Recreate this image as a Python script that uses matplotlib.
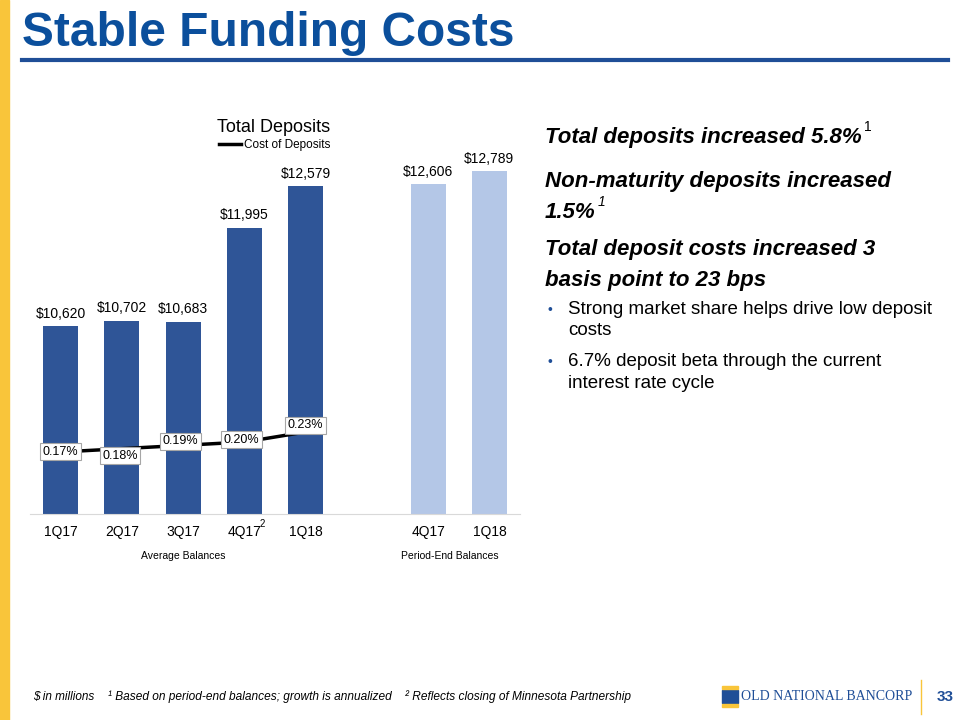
import numpy as np
import matplotlib.pyplot as plt
from matplotlib.lines import Line2D
from matplotlib.patches import Rectangle
import matplotlib.transforms as mtransforms

plt.rcParams['font.family'] = ['Liberation Sans', 'DejaVu Sans']

# data
avg_quarters = ['1Q17', '2Q17', '3Q17', '4Q17', '1Q18']
avg_deposits = [10620, 10702, 10683, 11995, 12579]
cost_of_deposits = [0.17, 0.18, 0.19, 0.20, 0.23]
end_quarters = ['4Q17', '1Q18']
end_deposits = [12606, 12789]

# (text, superscript) per line of the bold headlines
headline_lines = [
    ('Total deposits increased 5.8%', '1'),
    ('Non-maturity deposits increased', ''),
    ('1.5%', '1'),
    ('Total deposit costs increased 3', ''),
    ('basis point to 23 bps', ''),
]
bullet_lines = [
    ['Strong market share helps drive low deposit', 'costs'],
    ['6.7% deposit beta through the current', 'interest rate cycle'],
]

DARK = '#2F5597'
LIGHT = '#B4C7E7'
TITLE_BLUE = '#0B4F9C'
YELLOW = '#F9C53A'


def fy(py):
    return 1 - py / 720


def main():
    fig = plt.figure(figsize=(9.6, 7.2), dpi=100)

    # slide decorations
    fig.patches.append(Rectangle((0, 0), 9 / 960, 1, transform=fig.transFigure,
                                 color=YELLOW, zorder=0))
    fig.text(22 / 960, fy(34), 'Stable Funding Costs', fontsize=34.5,
             fontweight='bold', color=TITLE_BLUE, va='center', ha='left')
    fig.add_artist(Line2D([22 / 960, 948 / 960], [fy(60), fy(60)],
                          transform=fig.transFigure, color='#1F4E97', linewidth=3))

    # chart
    ax = fig.add_axes([30 / 960, fy(514), 490 / 960, 364 / 720])
    x_avg = np.arange(len(avg_quarters))
    x_end = np.arange(len(end_quarters)) + len(avg_quarters) + 1
    width = 0.57
    b1 = ax.bar(x_avg, avg_deposits, width=width, color=DARK, zorder=2)
    b2 = ax.bar(x_end, end_deposits, width=width, color=LIGHT, zorder=2)
    for bars, vals in ((b1, avg_deposits), (b2, end_deposits)):
        for rect, v in zip(bars, vals):
            ax.annotate('\\$' + f'{v:,}', (rect.get_x() + rect.get_width() / 2, v),
                        xytext=(0, 4), textcoords='offset points',
                        ha='center', va='bottom', fontsize=10)
    ax.set_xlim(-0.5, 7.5)
    ax.set_ylim(8000, 13084)
    ax.set_xticks(list(x_avg) + list(x_end))
    ax.set_xticklabels(avg_quarters + end_quarters, fontsize=10)
    ax.tick_params(axis='x', length=0, pad=8)
    ax.set_yticks([])
    for s in ['top', 'right', 'left']:
        ax.spines[s].set_visible(False)
    ax.spines['bottom'].set_color('#D9D9D9')
    trans = mtransforms.blended_transform_factory(ax.transData, ax.transAxes)
    ax.text(3.25, -0.014, '2', transform=trans, fontsize=7, ha='left', va='top')
    ax.text(2, -0.115, 'Average Balances', transform=trans, fontsize=7.5,
            ha='center', va='center')
    ax.text(6.35, -0.115, 'Period-End Balances', transform=trans, fontsize=7.5,
            ha='center', va='center')

    ax2 = ax.twinx()
    line, = ax2.plot(x_avg, cost_of_deposits, color='black', linewidth=2.5, zorder=3)
    ax2.set_ylim(-0.016, 1.076)
    ax2.set_yticks([])
    for s in ax2.spines.values():
        s.set_visible(False)
    offsets = [(0, 0), (-1.5, -5), (-2, 3), (-2, 1.5), (0, 5)]
    for xi, v, off in zip(x_avg, cost_of_deposits, offsets):
        ax2.annotate(f'{v:.2f}%', (xi, v), xytext=off, textcoords='offset points',
                     ha='center', va='center', fontsize=9, zorder=4,
                     bbox=dict(boxstyle='square,pad=0.2', fc='white', ec='#A6A6A6', lw=0.8))

    fig.text(274 / 960, fy(127), 'Total Deposits', fontsize=13,
             ha='center', va='center')
    fig.legend([line], ['Cost of Deposits'], loc='center',
               bbox_to_anchor=(275 / 960, fy(145)), frameon=False,
               fontsize=8.5, handlelength=1.8, handletextpad=0.3,
               borderpad=0, borderaxespad=0)

    # right-hand commentary
    for (txt, sup), y in zip(headline_lines, [137, 181, 212, 250, 281]):
        t = fig.text(545 / 960, fy(y), txt, fontsize=16, fontweight='bold',
                     fontstyle='italic', va='center', ha='left')
        if sup:
            ax.annotate(sup, xy=(1, 0.62), xycoords=t, xytext=(1.5, 0),
                        textcoords='offset points', fontsize=10,
                        fontstyle='italic' if y > 150 else 'normal',
                        va='bottom', ha='left')
    for lines, y in zip(bullet_lines, [310, 362]):
        fig.text(547 / 960, fy(y), '\u2022', fontsize=10, color='#1F4E97',
                 va='center', ha='left')
        for i, txt in enumerate(lines):
            fig.text(568 / 960, fy(y + 21 * i), txt, fontsize=13.5,
                     va='center', ha='left')

    # footer
    fig.text(33 / 960, fy(697), '\\$ in millions', fontsize=8.5,
             fontstyle='italic', va='center')
    fig.text(108 / 960, fy(697),
             '\u00b9 Based on period-end balances; growth is annualized',
             fontsize=8.6, fontstyle='italic', va='center')
    fig.text(405 / 960, fy(697),
             '\u00b2 Reflects closing of Minnesota Partnership',
             fontsize=8.6, fontstyle='italic', va='center')

    # logo
    fig.patches.append(Rectangle((722 / 960, fy(703)), 16 / 960, 13 / 720,
                                 transform=fig.transFigure, color='#1F4E97'))
    fig.patches.append(Rectangle((722 / 960, fy(689)), 16 / 960, 3 / 720,
                                 transform=fig.transFigure, color=YELLOW))
    fig.patches.append(Rectangle((722 / 960, fy(707)), 16 / 960, 3 / 720,
                                 transform=fig.transFigure, color=YELLOW))
    fig.text(741 / 960, fy(697), 'OLD NATIONAL BANCORP', fontsize=10,
             family='Liberation Serif', color='#1F4E97', va='center', ha='left')
    fig.add_artist(Line2D([921 / 960, 921 / 960], [fy(680), fy(714)],
                          transform=fig.transFigure, color=YELLOW, linewidth=1))
    fig.text(945 / 960, fy(697), '33', fontsize=11, fontweight='bold',
             color='#1F4E97', va='center', ha='center')

    fig.savefig('out.png', dpi=100)


if __name__ == "__main__":
    main()
